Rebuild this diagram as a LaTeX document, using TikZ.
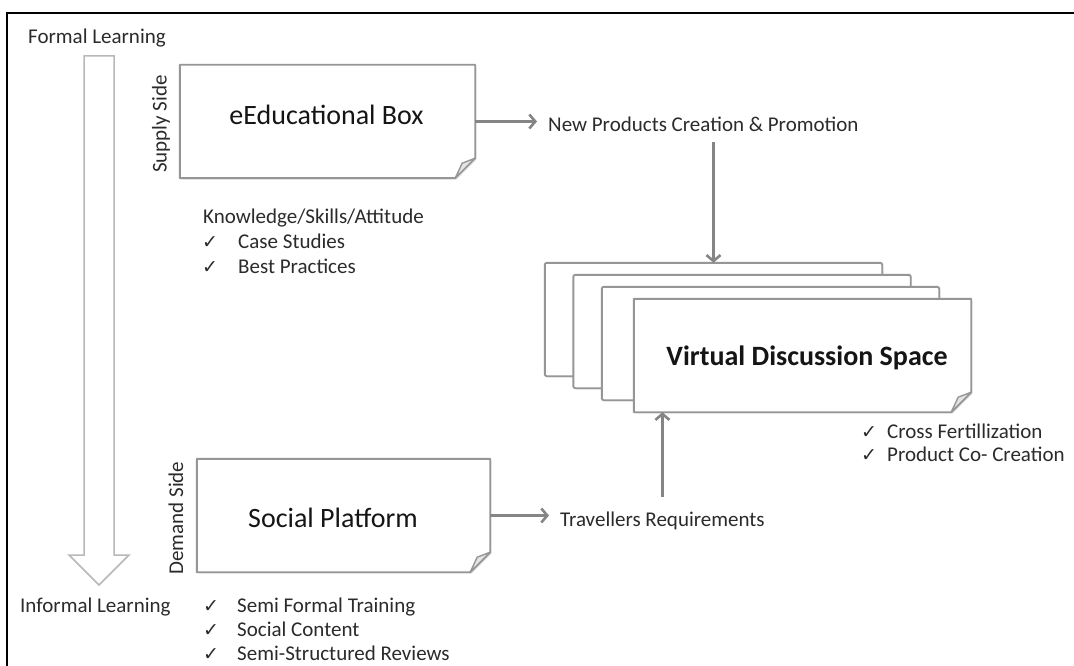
\documentclass[tikz,border=0pt]{standalone}
\usepackage{fontspec}
\setmainfont{Carlito}
\newfontfamily\checkfont{DejaVu Sans}
\usetikzlibrary{arrows.meta,shadows,backgrounds}

\definecolor{inkgray}{HTML}{2B2B2B}
\definecolor{titleink}{HTML}{151515}
\definecolor{edgegray}{HTML}{969696}
\definecolor{flowgray}{HTML}{858585}
\definecolor{paleedge}{HTML}{B8B8B8}
\definecolor{foldgray}{HTML}{E4E4E4}

\tikzset{
  labeltext/.style={font=\fontsize{21}{24}\selectfont, text=inkgray, inner sep=0pt, anchor=base west},
  sidetext/.style={font=\fontsize{21}{24}\selectfont, text=inkgray, inner sep=0pt, rotate=90},
  titletext/.style={font=\fontsize{28}{32}\selectfont, text=titleink, inner sep=0pt, anchor=base},
  boldtitle/.style={titletext, font=\fontsize{28}{32}\selectfont\bfseries},
  tickmark/.style={font=\checkfont\fontsize{19}{22}\selectfont, text=inkgray, inner sep=0pt, anchor=base west},
  notearea/.style={rectangle, inner sep=0pt, minimum width=#1, minimum height=113pt},
  boxline/.style={draw=edgegray, line width=1.9pt, line join=round},
  softshadow/.style={drop shadow={opacity=0.18, shadow xshift=1.5pt, shadow yshift=-1.5pt}},
  flow/.style={draw=flowgray, line width=3pt,
    -{Straight Barb[length=6pt,width=14pt,line width=2.6pt]}},
}

% note sheet with a curled bottom-right corner, drawn round a named node
\newcommand\foldnote[1]{%
  \path[fill=white, softshadow] (#1.north west) -- (#1.north east)
    -- ([yshift=20pt]#1.south east) -- ([xshift=-20pt]#1.south east)
    -- (#1.south west) -- cycle;
  \draw[boxline] (#1.north west) -- (#1.north east)
    -- ([yshift=20pt]#1.south east) -- ([xshift=-20pt]#1.south east)
    -- (#1.south west) -- cycle;
  \draw[boxline, line width=1.4pt, fill=foldgray] ([yshift=20pt]#1.south east)
    .. controls ([xshift=-6pt,yshift=17pt]#1.south east) .. ([xshift=-13pt,yshift=15pt]#1.south east)
    -- ([xshift=-20pt]#1.south east) -- ([yshift=20pt]#1.south east);
}

\begin{document}
\begin{tikzpicture}[x=1pt,y=-1pt]
\useasboundingbox (0,0) rectangle (1074,666);

% outer frame
\draw[line width=2.5pt, line cap=rect] (7,670) -- (7,13) -- (1078,13);

% formal -> informal learning scale
\node[labeltext] (formal) at (28,44) {Formal Learning};
\node[labeltext] (informal) at (20,612) {Informal Learning};
\draw[paleedge, line width=1.5pt, line join=miter]
  (84,56) -- (114,56) -- (114,555) -- (129,555) -- (99,585) -- (69,555) -- (84,555) -- cycle;

% sheet areas
\node[notearea=295pt] (edu) at (327.5,121.5) {};
\node[notearea=293pt] (social) at (343.5,515.5) {};
\node[notearea=337pt] (vds1) at (713.5,319.5) {};
\node[notearea=337pt] (vds2) at (742,331.5) {};
\node[notearea=337pt] (vds3) at (770.5,343.5) {};
\node[notearea=337pt] (vds4) at (802.5,355.5) {};

\begin{pgfonlayer}{background}
  \fill[white] (0,0) rectangle (1074,666);
  \foldnote{edu}
  \foldnote{social}
  \foreach \s in {vds1,vds2,vds3}{
    \path[fill=white, softshadow, rounded corners=2pt] (\s.north west) rectangle (\s.south east);
    \draw[boxline, rounded corners=2pt] (\s.north west) rectangle (\s.south east);
  }
  \foldnote{vds4}
\end{pgfonlayer}

% titles
\node[titletext] (edutitle) at (326.5,125) {eEducational Box};
\node[titletext] (socialtitle) at (333,527) {Social Platform};
\node[boldtitle] (vdstitle) at (807,365) {Virtual Discussion Space};

% side labels
\node[sidetext] (supply) at (161,124) {Supply Side};
\node[sidetext] (demand) at (176,518) {Demand Side};

% outputs of the sheets
\node[labeltext] (newprod) at (548,132) {New Products Creation \& Promotion};
\node[labeltext] (trav) at (560,526) {Travellers Requirements};

% connectors
\draw[flow, shorten >=11pt] (edu.east) -- (edu.east -| newprod.west);
\draw[flow, shorten <=10pt] (newprod.south -| vds1.north) -- (vds1.north);
\draw[flow, shorten >=11pt] (social.east) -- (social.east -| trav.west);
\draw[flow, shorten <=14pt] (trav.north) -- (trav.north |- vds4.south);

% supply side list
\node[labeltext] (ksa) at (203,223) {Knowledge/Skills/Attitude};
\node[tickmark] (ck1) at (202,248) {✓};
\node[labeltext] (case) at (238,248) {Case Studies};
\node[tickmark] (ck2) at (202,273) {✓};
\node[labeltext] (best) at (238,273) {Best Practices};

% demand side list
\node[tickmark] (ck3) at (203,612) {✓};
\node[labeltext] (semiformal) at (237,612) {Semi Formal Training};
\node[tickmark] (ck4) at (203,636) {✓};
\node[labeltext] (content) at (237,636) {Social Content};
\node[tickmark] (ck5) at (203,660) {✓};
\node[labeltext] (reviews) at (237,660) {Semi-Structured Reviews};

% discussion space list
\node[tickmark] (ck6) at (861,438) {✓};
\node[labeltext] (cross) at (887,438) {Cross Fertillization};
\node[tickmark] (ck7) at (861,461) {✓};
\node[labeltext] (cocreate) at (887,461) {Product Co- Creation};
\end{tikzpicture}
\end{document}
